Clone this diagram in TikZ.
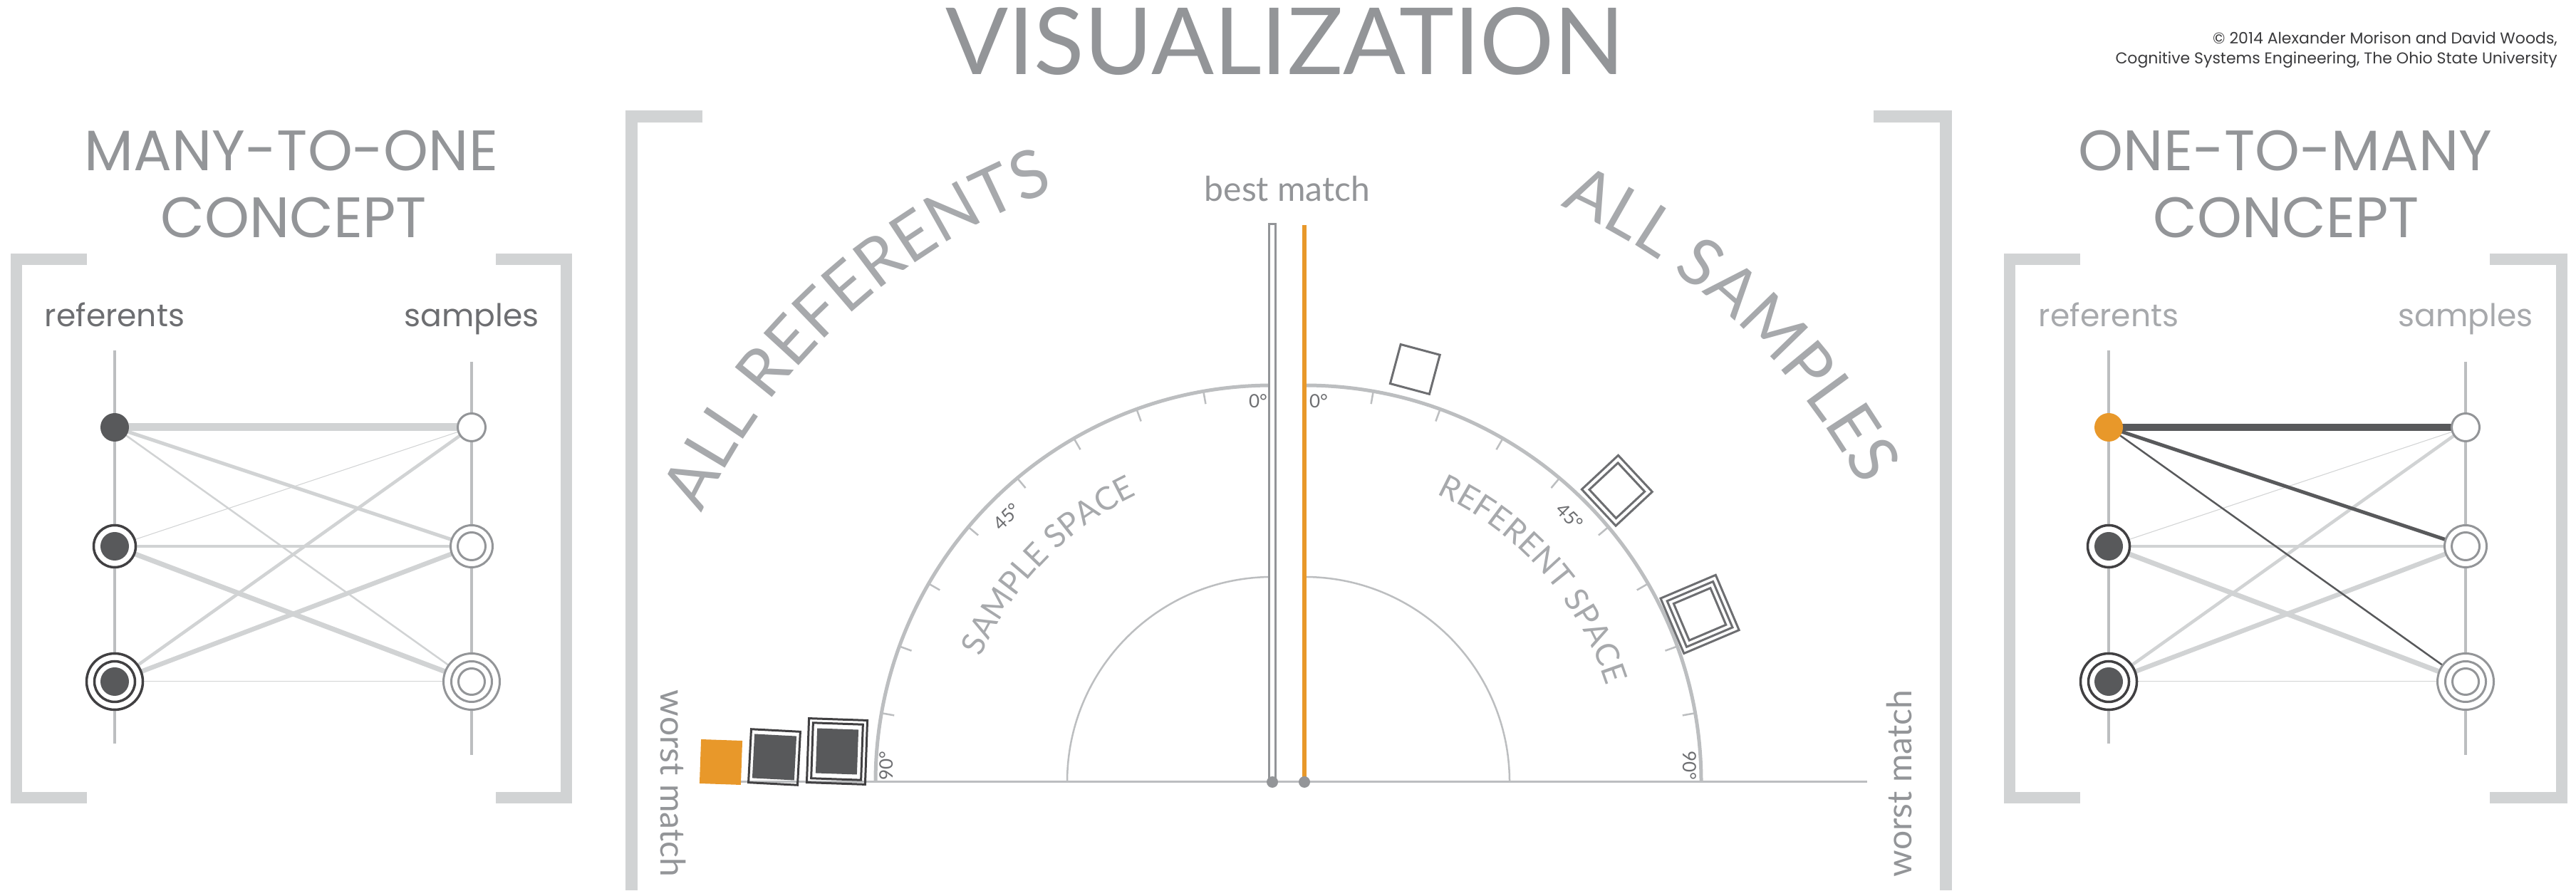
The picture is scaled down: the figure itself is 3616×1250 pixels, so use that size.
\documentclass[tikz,border=0pt]{standalone}
\usepackage{fontspec}
\usetikzlibrary{decorations.text}
\newfontfamily\geo{Poppins}
\newfontfamily\hum{Lato}
\definecolor{brgray}{HTML}{D1D3D4}
\definecolor{arcgray}{HTML}{BCBEC0}
\definecolor{midgray}{HTML}{939598}
\definecolor{ltgray}{HTML}{A7A9AC}
\definecolor{txgray}{HTML}{6D6E71}
\definecolor{dk}{HTML}{58595B}
\definecolor{ringdk}{HTML}{414042}
\definecolor{orng}{HTML}{E8982A}
\definecolor{edgegray}{HTML}{D1D3D4}
\definecolor{copyc}{HTML}{3A3A3C}
\pgfdeclarelayer{back}
\pgfdeclarelayer{bg}
\pgfsetlayers{back,bg,main}
\tikzset{
  brk/.style={draw=brgray, line width=16pt, line join=miter},
  bigbrk/.style={draw=brgray, line width=17pt, line join=miter},
  colline/.style={draw=arcgray, line width=4pt},
  edgeL/.style={draw=edgegray},
  edgeD/.style={draw=dk},
  ref1/.style={circle, inner sep=0pt, minimum size=40pt, fill=dk},
  ref1o/.style={circle, inner sep=0pt, minimum size=40pt, fill=orng},
  ref2/.style={circle, inner sep=0pt, minimum size=59pt, draw=ringdk, line width=3.5pt, fill=white},
  ref3/.style={circle, inner sep=0pt, minimum size=79pt, draw=ringdk, line width=3.5pt, fill=white},
  smp1/.style={circle, inner sep=0pt, minimum size=39pt, draw=midgray, line width=3pt, fill=white},
  smp2/.style={circle, inner sep=0pt, minimum size=59pt, draw=midgray, line width=3pt, fill=white},
  smp3/.style={circle, inner sep=0pt, minimum size=79pt, draw=midgray, line width=3pt, fill=white},
  ringin/.style={draw=ringdk, line width=3.5pt},
  ringsm/.style={draw=midgray, line width=3pt},
  bigtitle/.style={font=\hum\fontsize{130}{130}\selectfont, text=midgray, anchor=base, inner sep=0pt},
  ptitle/.style={font=\geo\fontsize{80}{80}\selectfont, text=midgray, anchor=base, inner sep=0pt},
  plabL/.style={font=\geo\fontsize{44}{44}\selectfont, text=txgray, anchor=base, inner sep=0pt},
  plabR/.style={font=\geo\fontsize{44}{44}\selectfont, text=ltgray, anchor=base, inner sep=0pt},
  matchlab/.style={font=\hum\fontsize{48}{48}\selectfont, text=midgray, inner sep=0pt},
  deglab/.style={font=\hum\fontsize{26}{26}\selectfont, text=txgray, inner sep=0pt},
  copylab/.style={font=\geo\fontsize{22}{22}\selectfont, text=copyc, anchor=base east, inner sep=0pt},
  arcout/.style={draw=arcgray, line width=5pt},
  arcin/.style={draw=arcgray, line width=2.5pt},
  tickmark/.style={draw=arcgray, line width=2.5pt},
  basel/.style={draw=arcgray, line width=3pt},
  dotn/.style={circle, inner sep=0pt, minimum size=16pt, fill=midgray},
  sqo/.style={rectangle, inner sep=0pt, draw=txgray, line width=3pt},
  sqd/.style={rectangle, inner sep=0pt, draw=ringdk, line width=3pt},
  sqf/.style={rectangle, inner sep=0pt, fill=dk},
}
\begin{document}
\begin{tikzpicture}[x=1pt,y=1pt]
\useasboundingbox (0,0) rectangle (3616,1250);
\begin{pgfonlayer}{back}
\fill[white] (0,0) rectangle (3616,1250);
\end{pgfonlayer}

% ---------- titles ----------
\node[bigtitle] (title) at (1804,1145) {VISUALIZATION};
\node[copylab] (cr1) at (3590,1188) {© 2014 Alexander Morison and David Woods,};
\node[copylab] (cr2) at (3590,1160) {Cognitive Systems Engineering, The Ohio State University};

% ---------- left panel ----------
\node[ptitle] (mto1) at (409,1010) {MANY-TO-ONE};
\node[ptitle] (mto2) at (412,916) {CONCEPT};
\draw[brk] (122,886) -- (23,886) -- (23,130) -- (122,130);
\draw[brk] (696,886) -- (795,886) -- (795,130) -- (696,130);
\node[plabL] (lref) at (161,791) {referents};
\node[plabL] (lsmp) at (662,791) {samples};
\coordinate (Atop) at (161,758); \coordinate (Abot) at (161,206);
\coordinate (Btop) at (662,742); \coordinate (Bbot) at (662,190);
\node[ref1] (A1) at (161,650) {};
\node[ref2] (A2) at (161,483) {};
\node[ref3] (A3) at (161,293) {};
\node[smp1] (B1) at (662,650) {};
\node[smp2] (B2) at (662,483) {};
\node[smp3] (B3) at (662,293) {};
\fill[dk] (A2.center) circle (20);
\draw[ringin] (A3.center) circle (28.5);
\fill[dk] (A3.center) circle (20);
\draw[ringsm] (B2.center) circle (19.5);
\draw[ringsm] (B3.center) circle (28.5);
\draw[ringsm] (B3.center) circle (18.5);
\begin{pgfonlayer}{bg}
\draw[colline] (Atop) -- (Abot);
\draw[colline] (Btop) -- (Bbot);
\draw[edgeL, line width=11pt] (A1.center) -- (B1.center);
\draw[edgeL, line width=5pt] (A1.center) -- (B2.center);
\draw[edgeL, line width=2.5pt] (A1.center) -- (B3.center);
\draw[edgeL, line width=1pt] (A2.center) -- (B1.center);
\draw[edgeL, line width=3.5pt] (A2.center) -- (B2.center);
\draw[edgeL, line width=7pt] (A2.center) -- (B3.center);
\draw[edgeL, line width=4.5pt] (A3.center) -- (B1.center);
\draw[edgeL, line width=6.5pt] (A3.center) -- (B2.center);
\draw[edgeL, line width=1pt] (A3.center) -- (B3.center);
\end{pgfonlayer}

% ---------- right panel ----------
\node[ptitle] (otm1) at (3208,1010) {ONE-TO-MANY};
\node[ptitle] (otm2) at (3209,916) {CONCEPT};
\draw[brk] (2920,886) -- (2821,886) -- (2821,130) -- (2920,130);
\draw[brk] (3495,886) -- (3596,886) -- (3596,130) -- (3495,130);
\node[plabR] (rref) at (2960,791) {referents};
\node[plabR] (rsmp) at (3461,791) {samples};
\coordinate (Ctop) at (2960,758); \coordinate (Cbot) at (2960,206);
\coordinate (Dtop) at (3461,742); \coordinate (Dbot) at (3461,190);
\node[ref1o] (C1) at (2960,650) {};
\node[ref2] (C2) at (2960,483) {};
\node[ref3] (C3) at (2960,293) {};
\node[smp1] (D1) at (3461,650) {};
\node[smp2] (D2) at (3461,483) {};
\node[smp3] (D3) at (3461,293) {};
\fill[dk] (C2.center) circle (20);
\draw[ringin] (C3.center) circle (28.5);
\fill[dk] (C3.center) circle (20);
\draw[ringsm] (D2.center) circle (19.5);
\draw[ringsm] (D3.center) circle (28.5);
\draw[ringsm] (D3.center) circle (18.5);
\begin{pgfonlayer}{bg}
\draw[colline] (Ctop) -- (Cbot);
\draw[colline] (Dtop) -- (Dbot);
\draw[edgeL, line width=1pt] (C2.center) -- (D1.center);
\draw[edgeL, line width=3.5pt] (C2.center) -- (D2.center);
\draw[edgeL, line width=7pt] (C2.center) -- (D3.center);
\draw[edgeL, line width=4.5pt] (C3.center) -- (D1.center);
\draw[edgeL, line width=6.5pt] (C3.center) -- (D2.center);
\draw[edgeL, line width=1pt] (C3.center) -- (D3.center);
\draw[edgeD, line width=10pt] (C1.center) -- (D1.center);
\draw[edgeD, line width=5pt] (C1.center) -- (D2.center);
\draw[edgeD, line width=2.5pt] (C1.center) -- (D3.center);
\end{pgfonlayer}

% ---------- central diagram ----------
\draw[bigbrk] (986,1086) -- (886,1086) -- (886,0);
\draw[bigbrk] (2630,1086) -- (2731,1086) -- (2731,0);
\coordinate (L) at (1786,152);
\coordinate (R) at (1831,152);
\coordinate (bl0) at (984,152);
\coordinate (bl1) at (2621,152);
\draw[basel] (bl0) -- (bl1);
\draw[arcout] ([shift={(90:557)}]L) arc[start angle=90, end angle=180, radius=557];
\draw[arcout] ([shift={(0:557)}]R) arc[start angle=0, end angle=90, radius=557];
\draw[arcin] ([shift={(90:288)}]L) arc[start angle=90, end angle=180, radius=288];
\draw[arcin] ([shift={(0:288)}]R) arc[start angle=0, end angle=90, radius=288];
\foreach \k in {1,...,8} {
  \draw[tickmark] ([shift={(90+10*\k:539)}]L) -- ([shift={(90+10*\k:556)}]L);
  \draw[tickmark] ([shift={(90-10*\k:539)}]R) -- ([shift={(90-10*\k:556)}]R);
}
\node[deglab] (d0l) at (1766,687) {0°};
\node[deglab] (d0r) at (1851,687) {0°};
\node[deglab, rotate=45] (d45l) at ([shift={(135:527)}]L) {45°};
\node[deglab, rotate=-45] (d45r) at ([shift={(45:527)}]R) {45°};
\node[deglab, rotate=90] (d90l) at (1244,175) {90°};
\node[deglab, rotate=-90] (d90r) at (2372,175) {90°};

% bars
\node[draw=midgray, line width=3pt, fill=white, minimum width=9pt, minimum height=782pt, anchor=south, inner sep=0pt] (gbar) at (1786,152) {};
\coordinate (otop) at (1831,934);
\draw[orng, line width=5.5pt] (otop) -- (R);
\node[dotn] (gdot) at (L) {};
\node[dotn] (odot) at (R) {};
\node[matchlab, anchor=base] (best) at (1807,967) {best match};
\node[matchlab, rotate=-90] (worstl) at (945,150) {worst match};
\node[matchlab, rotate=90] (worstr) at (2666,150) {worst match};

% curved labels
\path[decorate, decoration={text along path, text align=center, text color=ltgray,
  text={|\hum\fontsize{93}{93}\selectfont|ALL REFERENTS}}]
  ([shift={(177:885)}]L) arc[start angle=177, end angle=88, radius=885];
\path[decorate, decoration={text along path, text align=center, text color=ltgray,
  text={|\hum\fontsize{93}{93}\selectfont|ALL SAMPLES}}]
  ([shift={(91:885)}]R) arc[start angle=91, end angle=3, radius=885];
\path[decorate, decoration={text along path, text align=center, text color=ltgray,
  text={|\hum\fontsize{45}{45}\selectfont|SAMPLE SPACE}}]
  ([shift={(181:445)}]L) arc[start angle=181, end angle=91, radius=445];
\path[decorate, decoration={text along path, text align=center, text color=ltgray,
  text={|\hum\fontsize{45}{45}\selectfont|REFERENT SPACE}}]
  ([shift={(86.5:445)}]R) arc[start angle=86.5, end angle=-3.5, radius=445];

% worst-match squares (left)
\node[rectangle, inner sep=0pt, fill=orng, minimum width=58pt, minimum height=62pt, rotate=-2] (s0) at (1012,180) {};
\node[sqd, minimum width=69pt, minimum height=75pt, rotate=-3] (s1) at (1087,187) {};
\node[sqf, minimum width=59pt, minimum height=62pt, rotate=-3] (s1i) at (1087,187) {};
\node[sqd, minimum width=82pt, minimum height=90pt, rotate=-2] (s2) at (1175,195) {};
\node[sqd, minimum width=70pt, minimum height=78pt, rotate=-2] (s2m) at (1175,195) {};
\node[sqf, minimum width=58pt, minimum height=63pt, rotate=-2] (s2i) at (1175,195) {};

% squares along referent arc (right)
\node[sqo, minimum size=57pt, rotate=-15] (q1) at ([shift={(75:600)}]R) {};
\node[sqo, minimum size=70pt, rotate=-47] (q2) at ([shift={(43:600)}]R) {};
\node[sqo, minimum size=55pt, rotate=-47] (q2i) at ([shift={(43:600)}]R) {};
\node[sqo, minimum size=84pt, rotate=-67] (q3) at ([shift={(23:603)}]R) {};
\node[sqo, minimum size=70pt, rotate=-67] (q3m) at ([shift={(23:603)}]R) {};
\node[sqo, minimum size=56pt, rotate=-67] (q3i) at ([shift={(23:603)}]R) {};
\end{tikzpicture}
\end{document}
